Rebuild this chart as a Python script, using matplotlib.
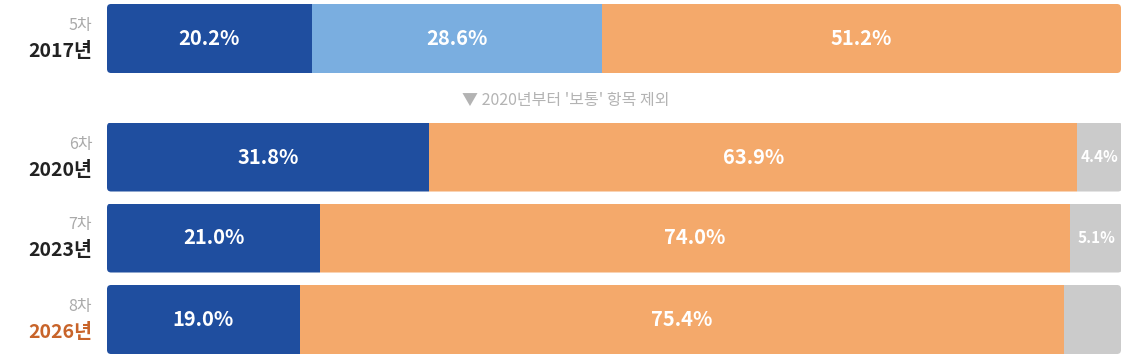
import matplotlib
matplotlib.use("Agg")
import matplotlib.pyplot as plt
from matplotlib.patches import FancyBboxPatch

plt.rcParams["font.family"] = ["Noto Sans CJK KR", "DejaVu Sans"]

rounds = ["5차", "6차", "7차", "8차"]
years = ["2017년", "2020년", "2023년", "2026년"]
dark = [20.2, 31.8, 21.0, 19.0]
light = [28.6, 0, 0, 0]
orange = [51.2, 63.9, 74.0, 75.4]
gray = [0, 4.4, 5.1, 5.6]
gray_labels = ["", "4.4%", "5.1%", ""]
note = "▼ 2020년부터 '보통' 항목 제외"

C_DARK = "#1f4e9f"
C_LIGHT = "#7aaee0"
C_ORANGE = "#f4a96b"
C_GRAY = "#cbcbcb"

W, H = 1134, 356
x0, x1 = 107, 1121
row_y = [38.5, 157, 238, 319.5]   # px centres
row_h = 69

fig = plt.figure(figsize=(W / 100, H / 100), dpi=100)
ax = fig.add_axes([x0 / W, 0, (x1 - x0) / W, 1])
ax.set_xlim(0, 100)
ax.set_ylim(H, 0)
ax.axis("off")

for i, y in enumerate(row_y):
    total = dark[i] + light[i] + orange[i] + gray[i]
    clip = FancyBboxPatch((0, y - row_h / 2), total, row_h,
                          boxstyle="round,pad=0,rounding_size=0.4",
                          mutation_aspect=10.14, transform=ax.transData,
                          facecolor="none", edgecolor="none")
    ax.add_patch(clip)
    left = 0
    segs = [(dark[i], C_DARK, f"{dark[i]:.1f}%", 14.5),
            (light[i], C_LIGHT, f"{light[i]:.1f}%", 14.5),
            (orange[i], C_ORANGE, f"{orange[i]:.1f}%", 14.5),
            (gray[i], C_GRAY, gray_labels[i], 11)]
    for val, col, lab, fs in segs:
        if val <= 0:
            continue
        b = ax.barh(y, val, left=left, height=row_h, color=col, linewidth=0)
        for p in b:
            p.set_clip_path(clip)
        if lab:
            ax.text(left + val / 2, y, lab, ha="center", va="center",
                    color="white", fontsize=fs, fontweight="bold")
        left += val
    ycol = "#c8642a" if i == len(row_y) - 1 else "#222222"
    ax.text(-1.45, y - 13, rounds[i], ha="right", va="center",
            color="#aaaaaa", fontsize=11.5, clip_on=False)
    ax.text(-1.45, y + 13, years[i], ha="right", va="center",
            color=ycol, fontsize=14, fontweight="bold", clip_on=False)

ax.text((462 - x0) / (x1 - x0) * 100, 100, note, ha="left", va="center",
        color="#b3b3b3", fontsize=11.5)

fig.savefig("out.png", dpi=100, facecolor="white")
